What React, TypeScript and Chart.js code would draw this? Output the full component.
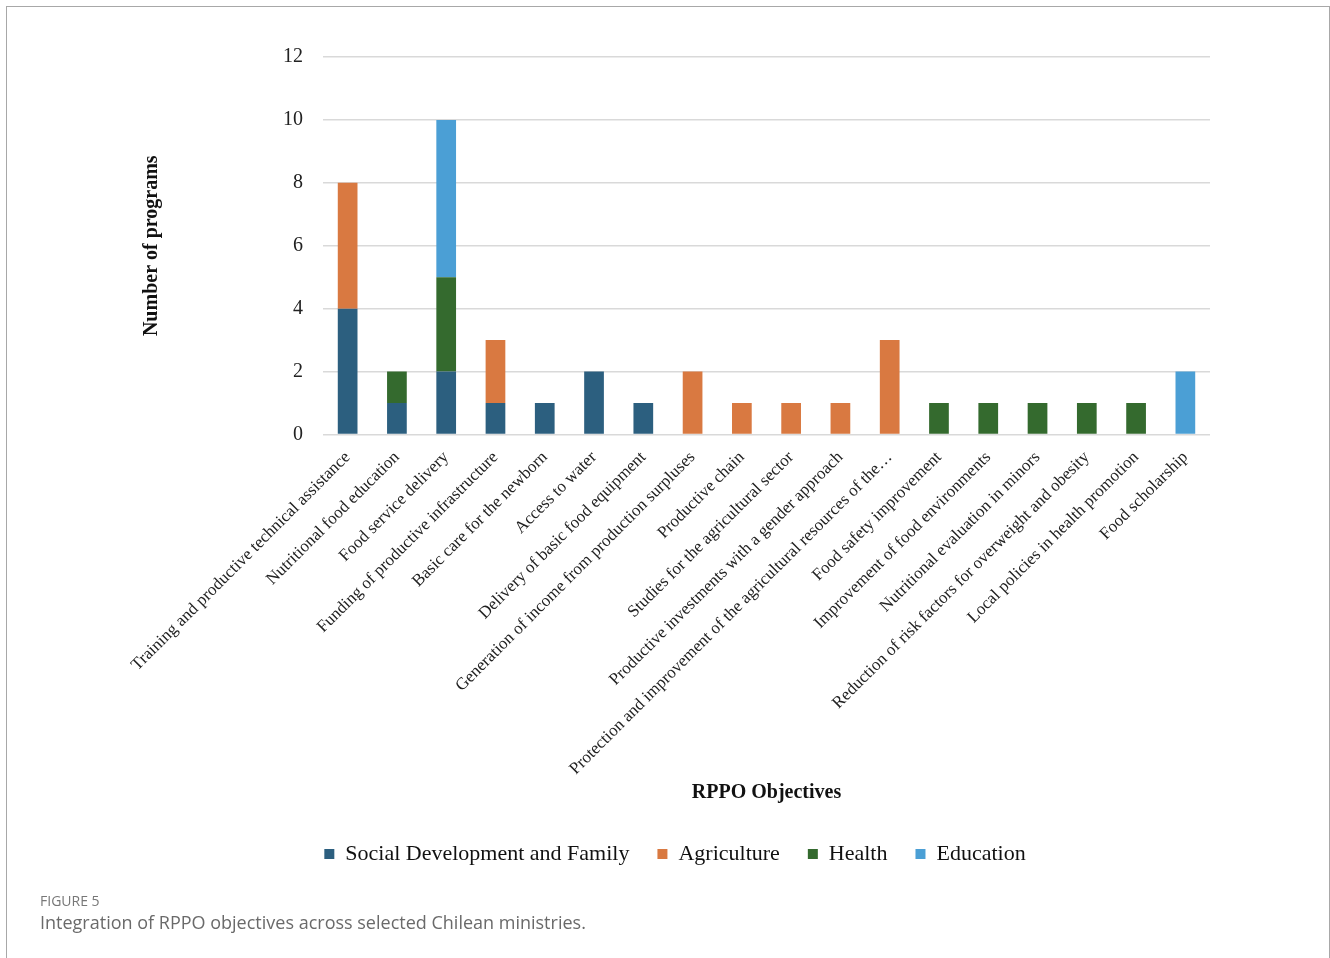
import React, { useEffect, useRef } from "react";
import { Chart, registerables } from "chart.js";

Chart.register(...registerables);

const categories = [
  "Training and productive technical assistance",
  "Nutritional food education",
  "Food service delivery",
  "Funding of productive infrastructure",
  "Basic care for the newborn",
  "Access to water",
  "Delivery of basic food equipment",
  "Generation of income from production surpluses",
  "Productive chain",
  "Studies for the agricultural sector",
  "Productive investments with a gender approach",
  "Protection and improvement of the agricultural resources of the…",
  "Food safety improvement",
  "Improvement of food environments",
  "Nutritional evaluation in minors",
  "Reduction of risk factors for overweight and obesity",
  "Local policies in health promotion",
  "Food scholarship",
];

const socialDevelopment = [4, 1, 2, 1, 1, 2, 1, 0, 0, 0, 0, 0, 0, 0, 0, 0, 0, 0];
const agriculture = [4, 0, 0, 2, 0, 0, 0, 2, 1, 1, 1, 3, 0, 0, 0, 0, 0, 0];
const health = [0, 1, 3, 0, 0, 0, 0, 0, 0, 0, 0, 0, 1, 1, 1, 1, 1, 0];
const education = [0, 0, 5, 0, 0, 0, 0, 0, 0, 0, 0, 0, 0, 0, 0, 0, 0, 2];

const seriesNames = ["Social Development and Family", "Agriculture", "Health", "Education"];
const seriesColors = ["#2c5f7f", "#d97941", "#346a2e", "#4b9fd5"];

const yMin = 0;
const yMax = 12;
const yStep = 2;

const SERIF = '"Liberation Serif", "Times New Roman", serif';

export default function App() {
  const canvasRef = useRef<HTMLCanvasElement | null>(null);

  useEffect(() => {
    if (!canvasRef.current) return;
    const values = [socialDevelopment, agriculture, health, education];
    const chart = new Chart(canvasRef.current, {
      type: "bar",
      data: {
        labels: categories,
        datasets: values.map((d, i) => ({
          label: seriesNames[i],
          data: d,
          backgroundColor: seriesColors[i],
          borderWidth: 0,
          barPercentage: 0.4,
          categoryPercentage: 1,
        })),
      },
      options: {
        animation: false,
        responsive: false,
        maintainAspectRatio: false,
        layout: { padding: { left: 140, right: 120, top: 57, bottom: 5 } },
        plugins: {
          legend: {
            position: "bottom",
            labels: {
              font: { family: SERIF, size: 22 },
              color: "#111",
              boxWidth: 10,
              boxHeight: 10,
              padding: 28,
            },
          },
          tooltip: { enabled: false },
        },
        scales: {
          x: {
            stacked: true,
            grid: { display: false, drawTicks: false },
            border: { display: false },
            ticks: {
              autoSkip: false,
              minRotation: 45,
              maxRotation: 45,
              padding: 13,
              color: "#222",
              font: { family: SERIF, size: 17 },
            },
            title: {
              display: true,
              text: "RPPO Objectives",
              color: "#111",
              font: { family: SERIF, size: 20, weight: "bold" },
              padding: { top: -11, bottom: 10 },
            },
          },
          y: {
            stacked: true,
            min: yMin,
            max: yMax,
            grid: { color: "#d9d9d9", lineWidth: 1.5, drawTicks: false },
            border: { display: false },
            ticks: {
              stepSize: yStep,
              padding: 20,
              color: "#222",
              font: { family: SERIF, size: 20 },
            },
            title: {
              display: true,
              text: "Number of programs",
              color: "#111",
              font: { family: SERIF, size: 20, weight: "bold" },
              padding: { top: 0, bottom: 99 },
            },
          },
        },
      },
    });
    return () => chart.destroy();
  }, []);

  return (
    <div>
      <div
        style={{
          position: "fixed",
          left: 6,
          top: 6,
          width: 1324,
          height: 970,
          border: "1px solid #a8a8a8",
          boxSizing: "border-box",
        }}
      />
      <canvas
        ref={canvasRef}
        width={1330}
        height={880}
        style={{ position: "fixed", left: 0, top: 0, width: 1330, height: 880 }}
      />
      <div
        style={{
          position: "fixed",
          left: 40,
          top: 891,
          fontFamily: '"Open Sans", "Noto Sans", sans-serif',
          fontSize: 14,
          color: "#777",
        }}
      >
        FIGURE 5
      </div>
      <div
        style={{
          position: "fixed",
          left: 40,
          top: 910,
          fontFamily: '"Open Sans", "Noto Sans", sans-serif',
          fontSize: 18,
          color: "#6a6a6a",
        }}
      >
        Integration of RPPO objectives across selected Chilean ministries.
      </div>
    </div>
  );
}
